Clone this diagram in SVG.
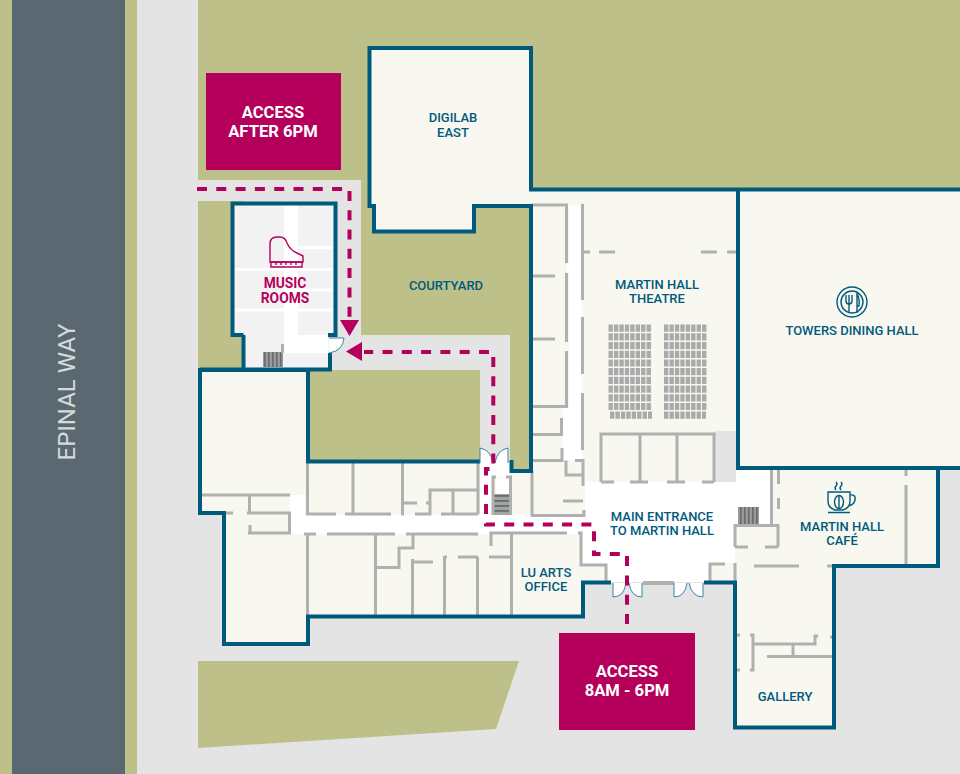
<svg xmlns="http://www.w3.org/2000/svg" width="960" height="774" viewBox="0 0 960 774">
<style>
.t{font-family:Roboto,"Liberation Sans",sans-serif;font-size:13px;font-weight:500;fill:#005a7c;text-anchor:middle}
.m{font-size:13.8px;font-weight:700;fill:#b5005b}
.a{font-size:16.6px;font-weight:700;fill:#fff}
.b{fill:none;stroke:#005a7c;stroke-width:4}
.g{fill:none;stroke:#b0b0b0;stroke-width:3}
.d{fill:#fff;stroke:#3a86a3;stroke-width:1}
.i{fill:none;stroke:#005a7c;stroke-width:1.4}
.p{fill:none;stroke:#b5005b;stroke-width:1.4}
.r{fill:none;stroke:#b5005b;stroke-width:4;stroke-dasharray:10 9.3}
.s{fill:none;stroke:#aaaaaa;stroke-width:7.2;stroke-dasharray:4.4 1.03}
</style>
<defs>
<pattern id="stV" width="4" height="3" patternUnits="userSpaceOnUse"><rect width="4" height="3" fill="#9a9a9a"/><rect width="1.6" height="3" fill="#666c70"/></pattern>
<pattern id="stH" width="3" height="5" patternUnits="userSpaceOnUse"><rect width="3" height="5" fill="#a4a4a4"/><rect width="3" height="1.8" fill="#666c70"/></pattern>
</defs>
<g id="site">
<rect width="960" height="774" fill="#e4e4e4"/>
<rect x="0" width="137" height="774" fill="#bdc089"/>
<rect x="12" width="113" height="774" fill="#5a6872"/>
<path d="M198 0H960V200H540V472H510V335H361V180H198Z" fill="#bdc089"/>
<path d="M198 201H243V372H198Z" fill="#bdc089"/>
<path d="M198 180H361V335H508V462H480V370H330V335H347V201H198Z" fill="#e4e4e4"/>
<path d="M198 661H519L496 729L198 748Z" fill="#bdc089"/>
<rect x="310" y="370" width="170" height="92" fill="#bdc089"/>
<text x="67" y="392" transform="rotate(-90 67 392)" style="font-family:Roboto,'Liberation Sans',sans-serif;font-size:24px;fill:#d5dadb;text-anchor:middle;dominant-baseline:central">EPINAL WAY</text>
</g>
<g id="floors">
<path d="M370 48H531V190H960V468H938V566H834V727H735V582H583V616H308V644H224V513H200V370H308V462H480V470H511V471H531V206H474V231H374V206H370Z" fill="#f8f8f1"/>
<path d="M308 462H480V470H308Z" fill="#f8f8f1"/>
<rect x="714" y="431" width="22" height="51" fill="#e4e4e4"/>
<path d="M480 462H511V477H495V515H290V495H305V515H480Z" fill="#fff"/>
<rect x="496" y="478" width="13" height="17" fill="#fff"/>
<path d="M290 515H585V482H582V300H581V205H569V264H567V272H569V408H563V460H582V482H736V470H770V525H735V563H708V582H606V565H583V534H290Z" fill="#fff"/>
<rect x="494" y="494" width="16" height="21" fill="url(#stH)"/>
<rect x="738" y="507" width="21" height="18" fill="url(#stV)"/>
</g>
<g id="walls">
<path class="g" d="M531 205H566.5V263M566.5 273V342M566.5 351V406.5H531M531 276H555M531 339H555M582.5 204V300M582.5 317V374M582.5 393V450M583 252H590M599 252H615M701 252H717M727 252H737M561.5 418V434.5H531M562 448V460.5H531M566 460.5V475H583M575 460.5H583V486M532 470V515.5H584V510M563 501H583"/>
<path class="g" d="M601 482V434H714V482M601 482H614M630 482H648M667 482H685M702 482H714M640 434V482M677 434V482"/>
<path class="g" d="M307.5 462V514H336M345 514H391M401 514H404M415 514H431.5M441 514H478M353 462V514M402.5 462V514M402 503H417M426 503H430M430 514V490H478M453 490V514M478 462V514M202 495H290M249.5 495V513M225 513H233M247 513H289.5V533H248M250 525V533M304 534H316M327 534H395M406 534H478M307.5 534V616M375.5 534V616M375 567.5H399V548H413V534M412.5 559V616M412 562H433M444.5 556V616M444 557H447M458 557H478M477.5 557V616M489 557H511M511.5 534V616M491 546V533H567M578 533H581V565H606V582M493 515V477H496M506 477H510.5V515"/>
<path class="g" d="M710 582V564H725M735 563V582M771.5 470V525M778.5 470V484M778.5 498V509M735 547V525.5H778V547M735 547H748M765 547H778M906 470V476M906 485V566M754 566H799M827 566H832M736 635H740M750 635H753V670H750M740 670H736M753 644H815V636H818M830 637H832M793 644V656M767 656.5H832"/>
<rect x="643" y="581" width="31" height="4" fill="#b0b0b0"/>
<rect x="245" y="334" width="37" height="3" fill="#b0b0b0"/>
<rect x="298" y="334" width="30" height="3" fill="#b0b0b0"/>
</g>
<g id="seating">
<path class="s" d="M608.500 328.200H652M608.500 336.900H652M608.500 345.600H652M608.500 354.300H652M608.500 363H652M608.500 371.700H652M608.500 380.400H652M608.500 389.100H652M608.500 397.800H652M608.500 406.500H652M610 415.200H652"/>
<path class="s" d="M664 328.200H707.500M664 336.900H707.500M664 345.600H707.500M664 354.300H707.500M664 363H707.500M664 371.700H707.500M664 380.400H707.500M664 389.100H707.500M664 397.800H707.500M664 406.500H707.500M664 415.200H706"/>
</g>
<g id="music-rooms">
<rect x="233" y="203" width="102" height="132" fill="#f2f2f2"/>
<rect x="243" y="335" width="87" height="34" fill="#f2f2f2"/>
<path d="M284 205H298V335H328V353H282V344H284Z" fill="#fff"/>
<path d="M298 247.500H333M235 269.500H333M298 290H333M235 310H333" stroke="#fff" stroke-width="3" fill="none"/>
<rect x="263" y="352" width="20" height="15" fill="url(#stV)"/>
<rect x="281" y="344" width="3" height="9" fill="#b0b0b0"/>
<path class="b" d="M243.500 335V369.500M200 369.500H330V353M243.500 335H232.500V203.500H335.500V335H328"/>
<path class="d" d="M329 338H344Q343 351 329 353"/>
<path class="p" d="M270 259V244Q270 237 277 237H280Q285 237 287 243Q290 250 297 253L303 256V262H270Z"/>
<path class="p" d="M271 262H302V267H271ZM276 262V265M281 262V265M286 262V265M291 262V265M296 262V265" stroke-width="1.100"/>
<text class="t m" x="285" y="288">MUSIC</text>
<text class="t m" x="285" y="303">ROOMS</text>
</g>
<g id="buildings">
<path class="b" d="M531 190V48H369.500V206H374V231.500H474V206H531V471H511.500V460"/>
<path class="b" d="M529 189.500H960M738 190V468H960M938 468V566H834V727.500H735V582.500H704M611 582.500H583V616.500H308V644H224V513H200V370H308V461.500H480"/>
</g>
<g id="doors">
<path class="d" d="M480 463V448Q491 450 493 463"/>
<path class="d" d="M508 463V448Q497 450 495 463"/>
<path class="d" d="M613 583V597Q624 597 626 583"/>
<path class="d" d="M642 583V597Q631 597 629 583"/>
<path class="d" d="M674 583V597Q685 597 687 583"/>
<path class="d" d="M703 583V597Q692 597 689 583"/>
</g>
<g id="digilab-east"><text class="t" x="453" y="122">DIGILAB</text><text class="t" x="453" y="137">EAST</text></g>
<g id="courtyard"><text class="t" x="446" y="290">COURTYARD</text></g>
<g id="theatre"><text class="t" x="657" y="289">MARTIN HALL</text><text class="t" x="657" y="303">THEATRE</text></g>
<g id="dining-hall">
<circle class="i" cx="852" cy="302" r="15"/><circle class="i" cx="852" cy="302" r="11"/>
<path class="i" d="M846 295V301Q846 304 849 304V313M852 295V301Q852 304 849 304M849 295V304M857 293Q860 300 859 306H857ZM857 306V313" fill="none"/>
<text class="t" x="852" y="335">TOWERS DINING HALL</text>
</g>
<g id="cafe">
<path class="i" d="M828 492H850V501Q850 508 843 510H835Q828 508 828 501ZM850 495Q856 494 855 500Q854 505 848 506M828 512.500H850"/>
<ellipse class="i" cx="839" cy="502" rx="4.500" ry="6.500"/><path class="i" d="M839 496V508M836 490Q834 488 836 486Q838 484 836 482M841 490Q839 488 841 486Q843 484 841 482" stroke-width="1"/>
<text class="t" x="842" y="531">MARTIN HALL</text><text class="t" x="842" y="545">CAFÉ</text>
</g>
<g id="main-entrance"><text class="t" x="662" y="521">MAIN ENTRANCE</text><text class="t" x="662" y="535">TO MARTIN HALL</text></g>
<g id="arts-office"><text class="t" x="546" y="577">LU ARTS</text><text class="t" x="546" y="591">OFFICE</text></g>
<g id="gallery"><text class="t" x="785" y="701">GALLERY</text></g>
<g id="access-evening"><rect x="206" y="73" width="135" height="97" fill="#b5005b"/><text class="t a" x="273" y="118">ACCESS</text><text class="t a" x="273" y="137">AFTER 6PM</text></g>
<g id="access-day"><rect x="559" y="633" width="136" height="97" fill="#b5005b"/><text class="t a" x="627" y="677">ACCESS</text><text class="t a" x="627" y="696">8AM - 6PM</text></g>
<g id="connectors">
<path class="r" d="M197 189H349.500V320"/>
<path d="M340 320H359L349.500 336Z" fill="#b5005b"/>
<path class="r" d="M627 624V554H594V524.500H486V469H493.300V352H364"/>
<path d="M346 351.500L362 342V361Z" fill="#b5005b"/>
</g>
</svg>
